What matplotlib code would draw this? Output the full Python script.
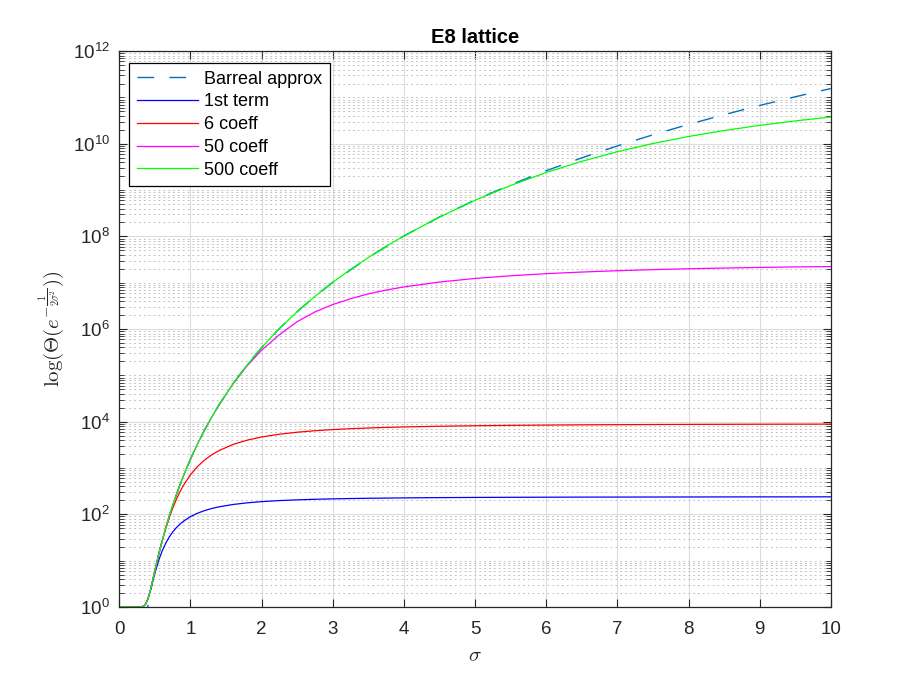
import matplotlib
matplotlib.use("Agg")
import matplotlib.pyplot as plt
import numpy as np
from matplotlib.ticker import FixedLocator, NullFormatter, FuncFormatter

# ---- data (log10 of the plotted values) ----
sigma = [0, 0.25, 0.3, 0.32, 0.35, 0.37, 0.4, 0.42, 0.45, 0.47,
         0.5, 0.55, 0.6, 0.65, 0.7, 0.75, 0.8, 0.85, 0.9, 1.0,
         1.1, 1.2, 1.3, 1.4, 1.6, 1.8, 2.0, 2.25, 2.5, 2.75,
         3.0, 3.25, 3.5, 3.75, 4.0, 4.5, 5.0, 5.5, 6.0, 6.5, 7.0, 7.5,
         8.0, 8.5, 9.0, 9.5, 10.0]

log_first_term = [0, 0, 0.0016, 0.0059, 0.0287, 0.065, 0.165, 0.262, 0.435, 0.556,
                  0.732, 0.992, 1.202, 1.371, 1.508, 1.619, 1.710, 1.786, 1.850, 1.951,
                  2.025, 2.082, 2.127, 2.162, 2.213, 2.249, 2.274, 2.297, 2.313, 2.325,
                  2.334, 2.341, 2.347, 2.351, 2.355, 2.361, 2.365, 2.368, 2.370, 2.372, 2.373, 2.374,
                  2.375, 2.376, 2.377, 2.377, 2.378]

log_6_coeff = [0, 0, 0.0016, 0.0059, 0.0288, 0.065, 0.168, 0.268, 0.452, 0.586,
               0.790, 1.116, 1.413, 1.682, 1.921, 2.133, 2.318, 2.481, 2.623, 2.855,
               3.035, 3.175, 3.287, 3.376, 3.510, 3.603, 3.670, 3.730, 3.773, 3.805,
               3.830, 3.849, 3.864, 3.877, 3.887, 3.902, 3.913, 3.921, 3.927, 3.932, 3.936, 3.939,
               3.942, 3.944, 3.946, 3.947, 3.948]

log_50_coeff = [0, 0, 0.0016, 0.0059, 0.0288, 0.065, 0.168, 0.268, 0.452, 0.586,
                0.790, 1.117, 1.418, 1.696, 1.954, 2.194, 2.418, 2.628, 2.827, 3.193,
                3.524, 3.826, 4.104, 4.362, 4.821, 5.214, 5.545, 5.880, 6.160, 6.370,
                6.530, 6.655, 6.760, 6.842, 6.910, 7.015, 7.093, 7.150, 7.196, 7.231, 7.260, 7.283,
                7.302, 7.317, 7.330, 7.342, 7.349]

log_500_coeff = [0, 0, 0.0016, 0.0059, 0.0288, 0.065, 0.168, 0.268, 0.452, 0.586,
                 0.790, 1.117, 1.418, 1.696, 1.954, 2.194, 2.418, 2.628, 2.827, 3.193,
                 3.524, 3.826, 4.104, 4.362, 4.826, 5.235, 5.601, 6.011, 6.376, 6.707,
                 7.010, 7.288, 7.546, 7.785, 8.010, 8.418, 8.781, 9.100, 9.380, 9.621, 9.829, 10.006,
                 10.157, 10.286, 10.398, 10.494, 10.578]

sigma_barreal = [0.3, 0.32, 0.35, 0.37, 0.4, 0.42, 0.45, 0.47,
                 0.5, 0.55, 0.6, 0.65, 0.7, 0.75, 0.8, 0.85, 0.9, 1.0,
                 1.1, 1.2, 1.3, 1.4, 1.6, 1.8, 2.0, 2.25, 2.5, 2.75,
                 3.0, 3.5, 4.0, 4.5, 5.0, 5.5, 6.0, 6.5, 7.0, 7.5,
                 8.0, 8.5, 9.0, 9.5, 10.0]
log_barreal = [-0.990, -0.766, -0.454, -0.261, 0.009, 0.179, 0.419, 0.570,
               0.785, 1.116, 1.418, 1.696, 1.954, 2.194, 2.418, 2.628, 2.827, 3.193,
               3.524, 3.826, 4.104, 4.362, 4.826, 5.235, 5.601, 6.011, 6.376, 6.707,
               7.010, 7.546, 8.010, 8.419, 8.785, 9.116, 9.418, 9.696, 9.954, 10.194,
               10.418, 10.628, 10.827, 11.015, 11.193]

labels = ["Barreal approx", "1st term", "6 coeff", "50 coeff", "500 coeff"]
y_tick_exponents = [0, 2, 4, 6, 8, 10, 12]
x_ticks = [0, 1, 2, 3, 4, 5, 6, 7, 8, 9, 10]

# ---- figure ----
plt.rcParams['font.family'] = ['Liberation Sans', 'DejaVu Sans']
plt.rcParams['mathtext.fontset'] = 'cm'

fig = plt.figure(figsize=(9.18, 6.82), dpi=100)
ax = fig.add_axes([0.13, 0.11, 0.775, 0.815])

axcol = '#262626'
ax.plot(sigma_barreal, 10.0 ** np.array(log_barreal), color=(0, 0.447, 0.741),
        lw=1.0, linestyle=(0, (12, 11)), label=labels[0])
ax.plot(sigma, 10.0 ** np.array(log_first_term), color='#0000ff', lw=0.9, label=labels[1])
ax.plot(sigma, 10.0 ** np.array(log_6_coeff), color='#ff0000', lw=0.9, label=labels[2])
ax.plot(sigma, 10.0 ** np.array(log_50_coeff), color='#ff00ff', lw=0.9, label=labels[3])
ax.plot(sigma, 10.0 ** np.array(log_500_coeff), color='#00ff00', lw=0.9, label=labels[4])

ax.set_yscale('log')
ax.set_xlim(0, 10)
ax.set_ylim(1, 1e12)

ax.xaxis.set_major_locator(FixedLocator(x_ticks))
ax.yaxis.set_major_locator(FixedLocator([10.0 ** e for e in y_tick_exponents]))
minors = []
for k in range(0, 12):
    for m in range(1, 10):
        v = m * 10.0 ** k
        if m == 1 and k in y_tick_exponents:
            continue
        minors.append(v)
ax.yaxis.set_minor_locator(FixedLocator(minors))
ax.yaxis.set_minor_formatter(NullFormatter())
ax.yaxis.set_major_formatter(FuncFormatter(
    lambda v, p: r'$\mathregular{10^{%d}}$' % int(round(np.log10(v)))))

ax.tick_params(axis='both', which='both', direction='in', top=True, right=True,
               colors=axcol, labelcolor=axcol)
ax.tick_params(axis='both', which='major', length=6, width=0.8, labelsize=13.5)
ax.tick_params(axis='y', which='minor', length=3.5, width=0.6)
ax.tick_params(axis='x', which='major', pad=10)
ax.tick_params(axis='y', which='major', pad=7)

ax.grid(True, which='major', axis='both', color='#dcdcdc', linestyle='-', lw=0.8)
ax.grid(True, which='minor', axis='y', color='#c4c4c4', linestyle=(0, (2, 3)), lw=0.7)
ax.set_axisbelow(True)

for sp in ax.spines.values():
    sp.set_color(axcol)
    sp.set_linewidth(0.9)

ax.set_title('E8 lattice', fontsize=14.5, fontweight='bold', pad=6)
ax.set_xlabel(r'$\sigma$', fontsize=15, color=axcol, labelpad=6)
ax.set_ylabel(r'$\log(\Theta(e^{-\frac{1}{2\sigma^2}}))$', fontsize=15, color=axcol, labelpad=4)

leg = ax.legend(loc='upper left', bbox_to_anchor=(0.014, 0.978), borderaxespad=0,
                fontsize=13, frameon=True, fancybox=False, framealpha=1,
                edgecolor='#000000', handlelength=3.4, handletextpad=0.35,
                labelspacing=0.32, borderpad=0.4)
leg.get_frame().set_linewidth(0.9)

fig.savefig('out.png', dpi=100)
